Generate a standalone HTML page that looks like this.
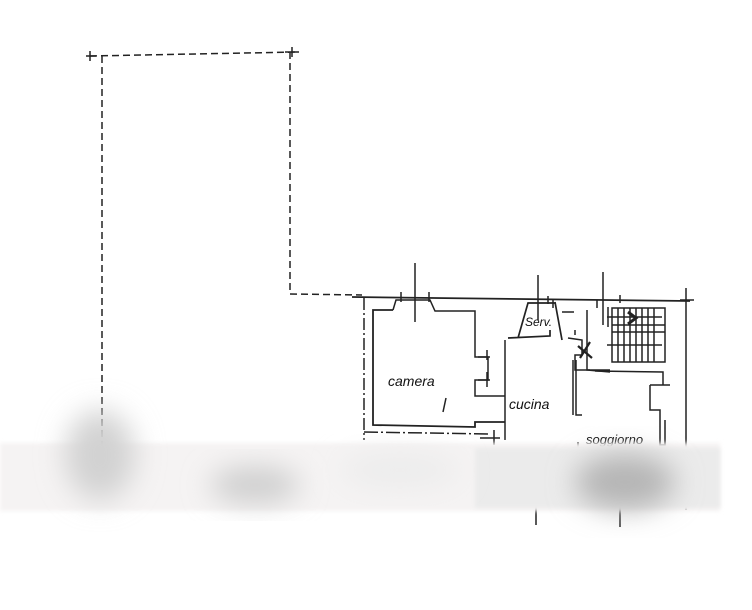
<!DOCTYPE html>
<html><head><meta charset="utf-8"><style>
html,body{margin:0;padding:0;background:#fff;}
svg{display:block;}
text{font-family:"Liberation Sans",sans-serif;font-style:italic;fill:#111;}
</style></head><body>
<svg width="752" height="610" viewBox="0 0 752 610" xmlns="http://www.w3.org/2000/svg">
<defs>
<filter id="b" x="-50%" y="-50%" width="200%" height="200%"><feGaussianBlur stdDeviation="14"/></filter>
<filter id="b2"><feGaussianBlur stdDeviation="2"/></filter>
</defs>
<rect width="752" height="610" fill="#fff"/>
<g stroke="#222" stroke-width="1.5" fill="none">
<path d="M90 56 L298 52 M290 52 L290 294 L362 295 M102 56 L102 445" stroke-dasharray="7,4"/>
<path d="M86 56 h10 M90 51 v10 M285 52 h14 M292 47 v10"/>
<path d="M352 297 L690 301" stroke-width="1.8"/>
<path d="M364 298 L364 440" stroke-dasharray="12,3,2,3"/>
<path d="M686 288 L686 510"/>
<path d="M680 300 h14"/>
<path d="M393 310 L373 310 L373 425 L475 427 L475 422 L505 422" stroke-width="1.8"/>
<path d="M393 310 L396 300 L430 300 L435 311 L475 311 L475 357 L488 357 L488 380 L475 380 L475 396 L505 396"/>
<path d="M415 263 L415 322 M401 292 v10 M429 292 v10 M478 357 h12 M478 380 h12 M487 350 v10 M487 372 v15"/>
<path d="M364 432 L490 434" stroke-dasharray="14,3,2,3"/>
<path d="M480 438 h20 M494 430 v15"/>
<path d="M505 340 L505 440"/>
<path d="M518 338 L528 303 L555 303 M508 338 L550 336 L550 330 M555 302 L562 340" stroke-width="1.7"/>
<path d="M538 275 L538 320 M548 296 v8 M553 300 v8 M562 312 l12 0 M575 330 v5"/>
<path d="M568 338 L582 340 L582 355 L575 355 L575 370 L590 370 M573 360 L573 415 M576 360 L576 415 L582 415"/>
<path d="M578 346 L592 358 M590 342 L580 358" stroke-width="2.2"/>
<path d="M587 310 L587 370 L610 370 M587 370 L610 372 M608 307 v20"/>
<path d="M603 272 L603 325 M597 300 v8 M620 295 v8"/>
<path d="M612 308 L665 308 L665 362 L612 362 Z"/>
<path d="M612 325 L665 325 M612 332 L665 332"/>
<path d="M618 308 v54 M624 308 v54 M630 308 v54 M636 308 v54 M642 308 v54 M648 308 v54 M654 308 v54"/>
<path d="M607 317 h55 M607 345 h55"/>
<path d="M628 312 l8 6 l-8 6" stroke-width="3"/>
<path d="M595 371 L663 372 L663 385 M650 385 L670 385 M650 385 L650 410 L660 410 L660 445 L665 445 L665 420"/>
<path d="M572 448 h12 M578 442 v8"/>
<path d="M536 505 v20 M620 505 v22"/>
<path d="M446 398 L443 412"/>
</g>
<text x="388" y="386" font-size="14">camera</text>
<text x="509" y="409" font-size="14">cucina</text>
<text x="525" y="326" font-size="12">Serv.</text>
<text x="586" y="444" font-size="13">soggiorno</text>
<rect x="0" y="443" width="720" height="68" fill="#f5f3f3" filter="url(#b2)"/>
<rect x="475" y="448" width="245" height="60" fill="#ebebeb" filter="url(#b2)"/>
<ellipse cx="100" cy="455" rx="35" ry="45" fill="#d2d2d2" filter="url(#b)"/>
<ellipse cx="255" cy="485" rx="45" ry="18" fill="#cdcdcd" filter="url(#b)"/>
<ellipse cx="625" cy="482" rx="50" ry="28" fill="#b5b5b5" filter="url(#b)"/>
<ellipse cx="400" cy="470" rx="60" ry="18" fill="#ececec" filter="url(#b)"/>
</svg>
</body></html>
